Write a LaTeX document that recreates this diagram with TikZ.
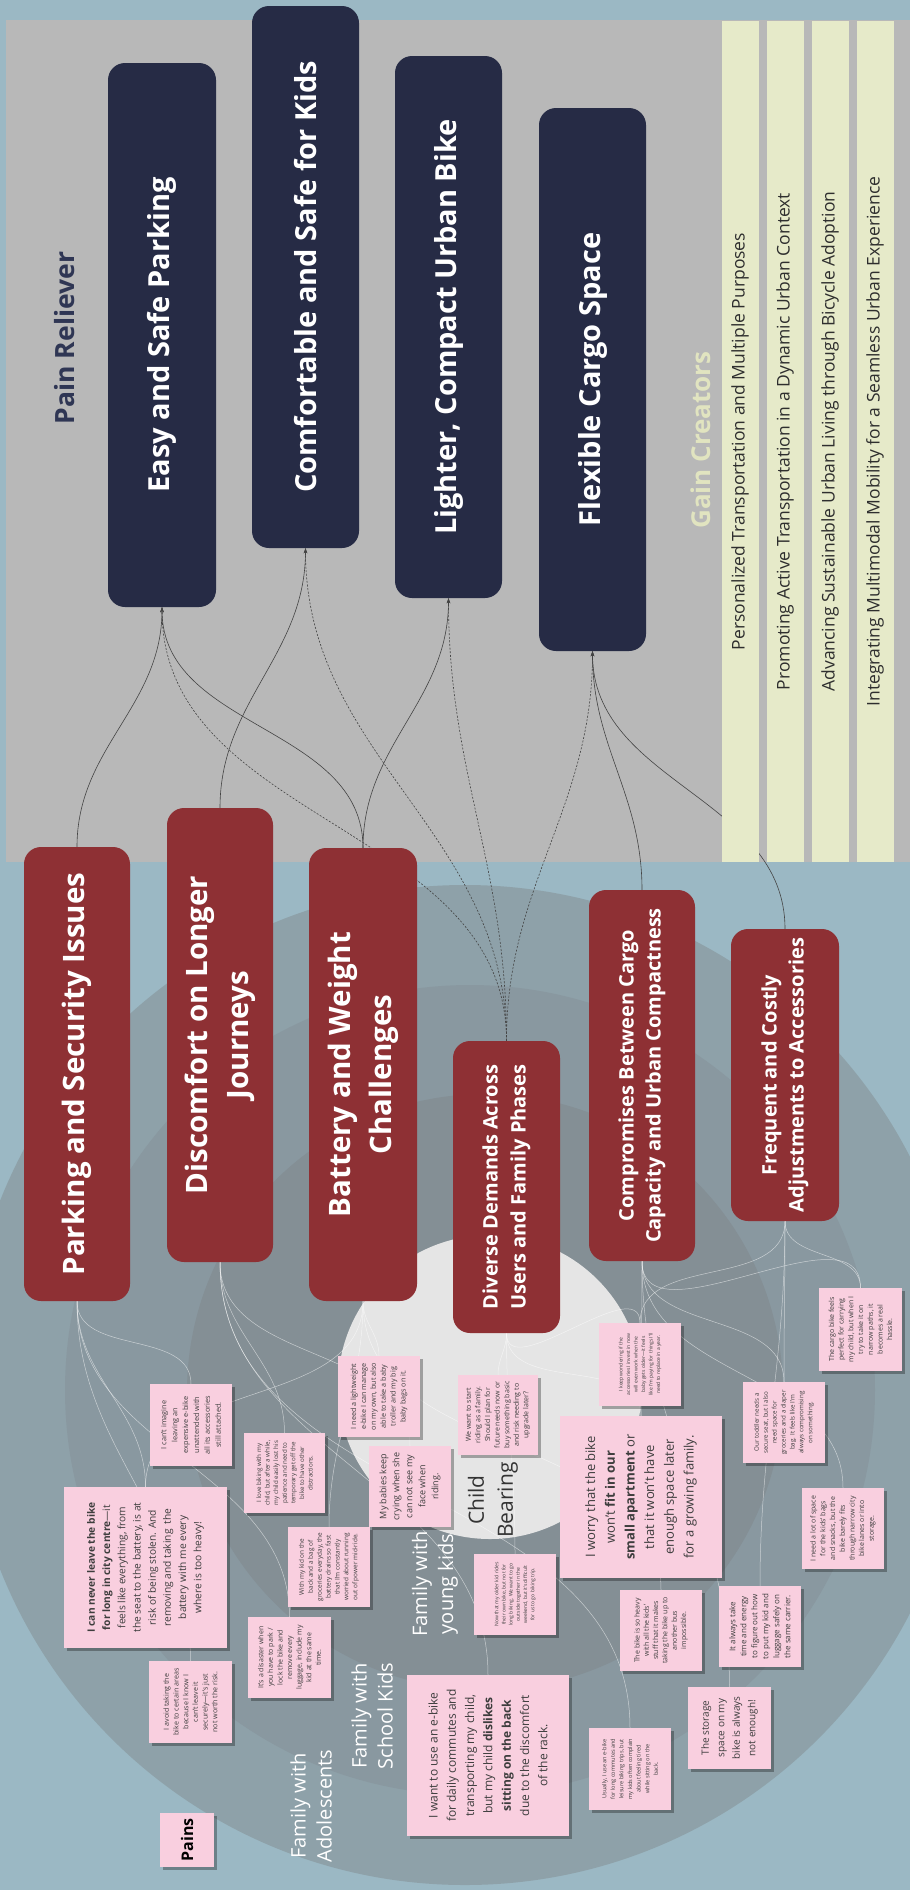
\documentclass[tikz,border=0pt]{standalone}
\usepackage{fontspec}
\setmainfont{Open Sans}
\usetikzlibrary{shadows,arrows.meta}

\definecolor{bgblue}{HTML}{9BB8C4}
\definecolor{panelgray}{HTML}{B8B8B8}
\definecolor{navy}{HTML}{262B45}
\definecolor{relievertitle}{HTML}{2F3654}
\definecolor{gainstrip}{HTML}{E6EAC9}
\definecolor{gaintitle}{HTML}{E1E4C0}
\definecolor{gaintext}{HTML}{2E2E2E}
\definecolor{painred}{HTML}{8E3034}
\definecolor{notepink}{HTML}{F9CFDF}
\definecolor{notetext}{HTML}{3D3D3D}
\definecolor{ringA}{HTML}{8EA1A9}
\definecolor{ringB}{HTML}{8998A0}
\definecolor{ringC}{HTML}{848F95}
\definecolor{corelight}{HTML}{E5E5E5}
\definecolor{linkdark}{HTML}{444444}

\pgfdeclarelayer{backdrop}
\pgfdeclarelayer{wires}
\pgfsetlayers{backdrop,wires,main}

\tikzset{
  fs/.style 2 args={font=\fontsize{#1}{#2}\selectfont},
  pagesize/.style 2 args={minimum width=#2, minimum height=#1},
  reliever/.style={fill=navy, rounded corners=17pt, rotate=90, text=white, inner sep=0pt, align=center, font=\bfseries\fontsize{29}{34}\selectfont},
  painbox/.style={fill=painred, rounded corners=17pt, rotate=90, text=white, inner sep=0pt, align=center},
  sticky/.style={fill=notepink, rotate=90, text=notetext, inner sep=0pt, align=center,
    drop shadow={shadow xshift=2.5pt, shadow yshift=-2.5pt, opacity=0.3, fill=black}},
  gainbar/.style={fill=gainstrip, rotate=90, text=gaintext, inner sep=0pt, font=\fontsize{17.5}{21}\selectfont},
  ringlabel/.style={rotate=90, text=white, align=center, font=\fontsize{20}{26}\selectfont},
  fixlink/.style={draw=linkdark, line width=0.6pt, -{Stealth[length=5pt,width=3.5pt]}},
  fixdash/.style={fixlink, dash pattern=on 2pt off 1.6pt},
  thread/.style={draw=white, draw opacity=0.55, line width=0.5pt},
}

\begin{document}
\begin{tikzpicture}[x=1pt,y=1pt]
\useasboundingbox (0,0) rectangle (910,-1890);

% ---------- backdrop: panel and customer rings ----------
\begin{pgfonlayer}{backdrop}
  \fill[bgblue] (0,0) rectangle (910,-1890);
  \fill[panelgray] (6,-20) rectangle (910,-862);
  \fill[ringA] (465,-1385) circle[radius=500];
  \fill[ringB] (470,-1390) circle[radius=405];
  \fill[ringC] (485,-1392) circle[radius=298];
  \fill[corelight] (490,-1387) circle[radius=152];
\end{pgfonlayer}

% ---------- value map headings ----------
\node[rotate=90, text=relievertitle, font=\bfseries\fontsize{26.5}{32}\selectfont] (relhead) at (65,-338) {Pain Reliever};
\node[rotate=90, text=gaintitle, font=\bfseries\fontsize{26}{31}\selectfont] (gainhead) at (701,-440) {Gain Creators};

% ---------- pain relievers ----------
\node[reliever, pagesize={108}{544}] (esp) at (162,-335) {Easy and Safe Parking};
\node[reliever, pagesize={107}{542}] (csk) at (305.5,-277) {Comfortable and Safe for Kids};
\node[reliever, pagesize={107}{542}] (lcu) at (448.5,-327) {Lighter, Compact Urban Bike};
\node[reliever, pagesize={107}{543}] (fcs) at (592.5,-379.5) {Flexible Cargo Space};

% ---------- gain creators ----------
\node[gainbar, pagesize={37}{841}] (g1) at (740,-441.5) {Personalized Transportation and Multiple Purposes};
\node[gainbar, pagesize={37}{841}] (g2) at (785,-441.5) {Promoting Active Transportation in a Dynamic Urban Context};
\node[gainbar, pagesize={37}{841}] (g3) at (830,-441.5) {Advancing Sustainable Urban Living through Bicycle Adoption};
\node[gainbar, pagesize={37}{841}] (g4) at (875,-441.5) {Integrating Multimodal Mobility for a Seamless Urban Experience};

% ---------- ring labels ----------
\node[ringlabel] (ladol) at (311,-1806) {Family with\\Adolescents};
\node[ringlabel] (lschool) at (372,-1716) {Family with\\School Kids};
\node[ringlabel] (lyoung) at (435,-1584) {Family with\\young kids};
\node[rotate=90, text=black!80, align=center, font=\fontsize{21}{29}\selectfont] (lchild) at (493,-1500) {Child\\Bearing};

% ---------- pains ----------
\node[painbox, pagesize={106}{454}, font=\bfseries\fontsize{29.5}{40}\selectfont] (psi) at (77,-1074) {Parking and Security Issues};
\node[painbox, pagesize={106}{454}, font=\bfseries\fontsize{29.5}{41}\selectfont] (dlj) at (220,-1035) {Discomfort on Longer\\Journeys};
\node[painbox, pagesize={108}{453}, font=\bfseries\fontsize{29.5}{41}\selectfont] (bwc) at (363,-1074.5) {Battery and Weight\\Challenges};
\node[painbox, pagesize={107}{292}, font=\bfseries\fontsize{20}{28}\selectfont] (ddu) at (506.5,-1187) {Diverse Demands Across\\Users and Family Phases};
\node[painbox, pagesize={106}{371}, font=\bfseries\fontsize{20}{27}\selectfont] (cbc) at (642,-1075.5) {Compromises Between Cargo\\Capacity and Urban Compactness};
\node[painbox, pagesize={108}{292}, font=\bfseries\fontsize{20}{27}\selectfont] (fca) at (785,-1075) {Frequent and Costly\\Adjustments to Accessories};

% ---------- sticky notes ----------
\node[sticky, pagesize={82}{82}, fs={7.3}{10.9}] (nA) at (191,-1425) {I can't imagine\\leaving an\\expensive e-bike\\unattended with\\all its accessories\\still attached.};
\node[sticky, pagesize={163}{161}, fs={10.2}{15.2}] (nB) at (145.5,-1567.5) {\textbf{I can never leave the bike}\\\textbf{for long in city centre}—it\\feels like everything, from\\the seat to the battery, is at\\risk of being stolen. And\\removing and taking\ \ the\\battery with me every\\where is too heavy!};
\node[sticky, pagesize={83}{82}, fs={7.1}{9.7}] (nC) at (190.5,-1702) {I avoid taking the\\bike to certain areas\\because I know I\\can't leave it\\securely—it's just\\not worth the risk.};
\node[sticky, pagesize={54}{54}, text=black, font=\bfseries\fontsize{16}{19}\selectfont] (nPains) at (187,-1840) {Pains};
\node[sticky, pagesize={83}{81}, fs={7}{9.6}] (nE) at (289.5,-1657.5) {It's a disaster when\\you have to park /\\lock the bike and\\remove every\\luggage, include my\\kid at the same\\time.};
\node[sticky, pagesize={81}{80}, fs={6.2}{8.6}] (nF) at (284.5,-1473) {I love biking with my\\child, but after a while,\\my child easily lost his\\patience and need to\\temporary get off the\\bike to have other\\distractions.};
\node[sticky, pagesize={82}{80}, fs={6.4}{8.9}] (nG) at (329,-1567) {With my kid on the\\back and a bag of\\groceries everyday, the\\battery drains so fast\\that I'm constantly\\worried about running\\out of power mid-ride.};
\node[sticky, pagesize={82}{81}, fs={7.2}{9.9}] (nH) at (379,-1396.5) {I need a lightweight\\e-bike I can manage\\on my own, but also\\able to take a baby\\troller and my big\\baby bags on it.};
\node[sticky, pagesize={82}{81}, fs={9}{13}] (nI) at (410,-1486.5) {My babies keep\\crying when she\\can not see my\\face when\\riding.};
\node[sticky, pagesize={80}{80}, fs={7}{9.6}] (nJ) at (498,-1415) {We want to start\\riding as a family.\\Should I plan for\\future needs now or\\buy something basic\\and risk needing to\\upgrade later?};
\node[sticky, pagesize={82}{83}, fs={5}{7.5}] (nK) at (640,-1364.5) {I keep wondering if the\\accessories I invest in now\\will even work when the\\baby gets older—it feels\\like I'm paying for things I'll\\need to replace in a year.};
\node[sticky, pagesize={162}{162}, fs={13}{19.7}] (nL) at (641,-1497) {I worry that the bike\\won't \textbf{fit in our}\\\textbf{small apartment} or\\that it won't have\\enough space later\\for a growing family.};
\node[sticky, pagesize={82}{81}, fs={5}{7.2}] (nM) at (515,-1594.5) {Now that my older kid rides\\their own bike, but not for\\long biking. We want to go\\outside together in the\\weekend, but it's difficult\\for us to go biking trip.};
\node[sticky, pagesize={162}{161}, fs={12}{18.3}] (nN) at (488,-1755.5) {I want to use an e-bike\\for daily commutes and\\transporting my child,\\but my child \textbf{dislikes}\\\textbf{sitting on the back}\\due to the discomfort\\of the rack.};
\node[sticky, pagesize={82}{81}, fs={7}{9.3}] (nO) at (661,-1630.5) {The bike is so heavy\\with all the kids'\\stuff that it makes\\taking the bike up to\\another bus\\impossible.};
\node[sticky, pagesize={82}{81}, fs={8}{11}] (nP) at (760,-1626.5) {It always take\\time and energy\\to figure out how\\to put my kid and\\luggage safely on\\the same carrier.};
\node[sticky, pagesize={82}{81}, fs={7}{9.7}] (nQ) at (843,-1528.5) {I need a lot of space\\for the kids' bags\\and snacks, but the\\bike barely fits\\through narrow city\\bike lanes or into\\storage.};
\node[sticky, pagesize={82}{81}, fs={6.2}{8.9}] (nR) at (784,-1422.5) {Our toddler needs a\\secure seat, but I also\\need space for\\groceries and a diaper\\bag. It feels like I'm\\always compromising\\on something.};
\node[sticky, pagesize={83}{83}, fs={7}{9.7}] (nS) at (860.5,-1329.5) {The cargo bike feels\\perfect for carrying\\my child, but when I\\try to take it on\\narrow paths, it\\becomes a real\\hassle.};
\node[sticky, pagesize={82}{82}, fs={5.6}{8.6}] (nT) at (630,-1769) {Usually, I use an e-bike\\for long commutes and\\leisure biking trips, but\\my kids often complain\\about feeling tired\\while sitting on the\\back.};
\node[sticky, pagesize={83}{82}, fs={10}{15.5}] (nU) at (729.5,-1728) {The storage\\space on my\\bike is always\\not enough!};

% ---------- connectors ----------
\begin{pgfonlayer}{wires}
  % pains to the notes that voice them
  \foreach \src/\dst in {psi/nA, psi/nB, psi/nC, psi/nE,
                         dlj/nF, dlj/nI, dlj/nN, dlj/nT,
                         bwc/nG, bwc/nH, bwc/nO, bwc/nB,
                         ddu/nJ, ddu/nK, ddu/nM, ddu/nL,
                         cbc/nL, cbc/nQ, cbc/nS, cbc/nR, cbc/nU,
                         fca/nP, fca/nK, fca/nR, fca/nS}
    \draw[thread] (\src.west) to[out=-90, in=90] (\dst.east);

  % pains to the relievers that address them
  \draw[fixlink] (psi.east) to[out=90, in=-90] (esp.west);
  \draw[fixlink] (bwc.east) to[out=90, in=-90] (esp.west);
  \draw[fixdash] (ddu.east) to[out=90, in=-90] (esp.west);
  \draw[fixlink] (dlj.east) to[out=90, in=-90] (csk.west);
  \draw[fixdash] (ddu.east) to[out=90, in=-90] (csk.west);
  \draw[fixlink] (bwc.east) to[out=90, in=-90] (lcu.west);
  \draw[fixdash] (ddu.east) to[out=90, in=-90] (lcu.west);
  \draw[fixdash] (ddu.east) to[out=90, in=-90] (fcs.west);
  \draw[fixlink] (cbc.east) to[out=90, in=-90] (fcs.west);
  \draw[fixlink] (fca.east) to[out=90, in=-90] (fcs.west);
\end{pgfonlayer}
\end{tikzpicture}
\end{document}
